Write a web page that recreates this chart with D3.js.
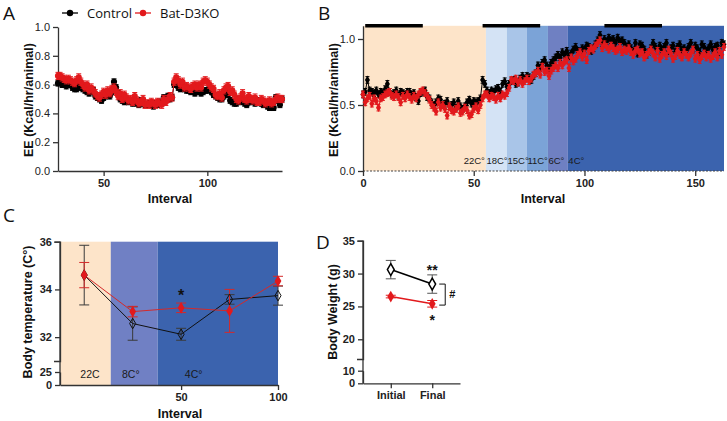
<!DOCTYPE html>
<html>
<head>
<meta charset="utf-8">
<script src="https://cdn.jsdelivr.net/npm/d3@7"></script>
<style>
  body { margin: 0; background: #fff; }
  svg { font-family: "Liberation Sans", Arial, sans-serif; }
  .letter { font-family: "Open Sans", "Liberation Sans", sans-serif; font-size: 19px; fill: #111; }
  .title { font-size: 12.5px; font-weight: bold; fill: #111; }
</style>
</head>
<body>
<svg id="fig" width="727" height="421"></svg>
<script>
"use strict";

// ---------------- data
var seriesNames = ["Control", "Bat-D3KO"];

// A: energy expenditure, intervals 28..136
var intervalStartA = 28;
var eeControlA = [0.61,0.62,0.60,0.60,0.59,0.60,0.60,0.58, 0.57,0.57,0.60,0.58,0.57,
  0.56,0.55,0.54,0.55,0.56,0.52,0.51, 0.50,0.49,0.51,0.52,0.54,0.52,0.55,0.62,
  0.58,0.54,0.50,0.49,0.48,0.49,0.48, 0.49,0.47,0.48,0.47,0.46,0.49,0.47,0.46,
  0.46,0.47,0.46,0.45,0.47,0.46,0.48,0.47,0.51,0.50, 0.52,0.50,0.51,0.60,
  0.61,0.58,0.57,0.60,0.57,0.56, 0.56,0.55,0.56,0.54,0.57,0.55,0.54,0.55,0.56,0.56,
  0.58,0.55,0.53,0.52,0.51,0.50,0.50,0.52,0.54,0.53, 0.49,0.48,0.47,0.47,0.50,0.48,0.49,0.47,0.46,0.48,
  0.48,0.49,0.47,0.49,0.48,0.47,0.46,0.47,0.45,0.44, 0.45,0.44,0.51,0.49,0.46,0.50];
var eeKoA = [0.66,0.66,0.65,0.64,0.63,0.64,0.63,0.62, 0.61,0.63,0.65,0.62,0.60,
  0.58,0.60,0.56,0.58,0.56,0.54,0.52, 0.51,0.53,0.55,0.53,0.56,0.54,0.57,0.58,
  0.55,0.52,0.54,0.50,0.53,0.51,0.49, 0.50,0.48,0.52,0.49,0.47,0.48,0.50,0.46,
  0.47,0.46,0.48,0.47,0.46,0.48,0.47,0.46,0.50,0.48, 0.50,0.52,0.51,0.62,
  0.65,0.63,0.60,0.62,0.58,0.59, 0.58,0.57,0.59,0.60,0.58,0.60,0.58,0.62,0.63,0.62,
  0.60,0.58,0.57,0.53,0.52,0.54,0.51,0.56,0.58,0.59, 0.55,0.56,0.53,0.50,0.49,0.51,0.54,0.50,0.49,0.52,
  0.50,0.49,0.51,0.48,0.48,0.50,0.49,0.47,0.48,0.49, 0.47,0.48,0.50,0.51,0.50,0.50];
var semA = [0.02, 0.025];

// B: energy expenditure while stepping the temperature down, intervals 0..163
var intervalStartB = 0;
var eeControlB = [0.58,0.60,0.69,0.61,0.60,0.59,0.61,0.58,0.60,0.59,0.62,
  0.66,0.60,0.58,0.59,0.61,0.57,0.60,0.59,0.58,0.60,
  0.60,0.58,0.59,0.56,0.53,0.59,0.60,0.61,0.56,0.55,
  0.52,0.50,0.52,0.55,0.54,0.50,0.51,0.53,0.49,0.50,
  0.52,0.48,0.53,0.49,0.47,0.49,0.52,0.54,0.51,0.53,
  0.52,0.53,0.55,0.69,0.66,
  0.61,0.59,0.61,0.60,0.62,0.63,0.60,0.66,0.68,0.64,
  0.66,0.68,0.69,0.66,0.67,0.70,0.72,0.70,0.72,0.71,
  0.69,0.72,0.74,0.80,0.78,0.82,0.84,0.80,0.78,0.82,
  0.84,0.86,0.88,0.86,0.90,0.88,0.91,0.87,0.89,0.92,
  0.94,0.91,0.90,0.93,0.92,0.95,0.94,0.91,0.93,0.96,
  0.99,1.03,0.97,1.00,0.98,1.01,0.99,1.00,0.97,1.01,
  0.98,0.99,0.97,0.94,0.96,0.93,0.91,0.97,0.89,0.96,
  0.95,0.92,0.88,0.90,0.93,0.97,0.94,0.91,0.95,0.92,
  0.94,0.97,0.91,0.93,0.95,0.90,0.94,0.96,0.92,0.93,
  0.91,0.94,0.97,0.92,0.95,0.93,0.90,0.96,0.94,0.91,
  0.93,0.96,0.92,0.94,0.95,0.90,0.97,0.96];
var eeKoB = [0.58,0.52,0.55,0.57,0.51,0.55,0.53,0.48,0.55,0.56,0.58,
  0.59,0.60,0.57,0.56,0.58,0.56,0.52,0.57,0.55,0.58,
  0.56,0.54,0.57,0.55,0.58,0.60,0.61,0.59,0.57,0.54,
  0.50,0.48,0.45,0.52,0.48,0.50,0.47,0.42,0.49,0.46,
  0.45,0.47,0.49,0.44,0.45,0.48,0.46,0.42,0.43,0.47,
  0.49,0.46,0.50,0.55,0.58,
  0.58,0.55,0.57,0.56,0.54,0.57,0.55,0.58,0.57,0.59,
  0.63,0.69,0.68,0.70,0.67,0.69,0.66,0.68,0.70,0.68,
  0.70,0.73,0.74,0.76,0.73,0.79,0.75,0.76,0.72,0.76,
  0.78,0.80,0.78,0.82,0.80,0.83,0.84,0.78,0.86,0.83,
  0.85,0.88,0.90,0.86,0.89,0.84,0.91,0.93,0.92,0.95,
  0.97,0.99,0.93,0.96,0.94,0.92,0.95,0.93,0.91,0.92,
  0.94,0.90,0.92,0.91,0.93,0.90,0.88,0.91,0.92,0.89,
  0.90,0.86,0.88,0.90,0.92,0.89,0.86,0.91,0.85,0.88,
  0.90,0.87,0.92,0.89,0.85,0.87,0.91,0.88,0.86,0.90,
  0.88,0.86,0.89,0.92,0.85,0.88,0.84,0.87,0.89,0.86,
  0.88,0.85,0.87,0.90,0.86,0.91,0.88,0.94];
var semB = [0.025, 0.025];
var bandLabelsB = ["22C°", "18C°", "15C°", "11C°", "6C°", "4C°"];
var bandEdgesB = [0, 55.5, 65, 74, 83.5, 92.5, 163];
var darkPhasesB = [[1, 27], [54, 80], [109, 135]];

// C: body temperature
var intervalsC = [0, 25, 50, 75, 100];
var tempControl = [34.6, 32.57, 32.12, 33.58, 33.74];
var tempControlErr = [1.25, 0.7, 0.25, 0.2, 0.4];
var tempKo = [34.6, 33.07, 33.23, 33.1, 34.35];
var tempKoErr = [0.53, 0.22, 0.2, 0.9, 0.2];
var bandLabelsC = ["22C", "8C°", "4C°"];
var bandEdgesC = [-12.5, 13.7, 37.9, 100];

// D: body weight
var timepoints = ["Initial", "Final"];
var weightControl = [30.6, 28.4];
var weightControlErr = [1.4, 1.4];
var weightKo = [26.5, 25.4];
var weightKoErr = [0.2, 0.5];

// ---------------- styles
var colors = ["#000000", "#e2191c"];
var bandColorsB = ["#fde4c9", "#d4e3f5", "#a9c5e8", "#7ba3d7", "#6f80c2", "#3b63ae"];
var bandColorsC = ["#fde4c9", "#7080c4", "#3b63ae"];

var svg = d3.select("#fig");

function styleAxis(g, bold) {
    g.select(".domain").attr("stroke", "#333").attr("stroke-width", 1.3);
    g.selectAll(".tick line").attr("stroke", "#333").attr("stroke-width", 1.3);
    g.selectAll(".tick text")
        .attr("font-size", 11)
        .attr("font-weight", bold ? "bold" : "normal")
        .attr("fill", "#222")
        .attr("font-family", "Liberation Sans, Arial, sans-serif");
}

//draw error bars (both directions, capped)
function errorBars(g, data, x, y, color, cap) {
    var eb = g.append("g").attr("stroke", color).attr("stroke-width", 1).attr("fill", "none");
    data.forEach(function (d) {
        var cx = x(d.x), t = y(d.v + d.e), b = y(d.v - d.e);
        eb.append("path").attr("d", "M" + cx + "," + t + "V" + b +
            "M" + (cx - cap) + "," + t + "H" + (cx + cap) +
            "M" + (cx - cap) + "," + b + "H" + (cx + cap));
    });
}

function toPoints(start, vals, err) {
    return vals.map(function (v, i) { return { x: start + i, v: v, e: err }; });
}

function drawSeries(g, data, x, y, s, symbol, size, cap) {
    errorBars(g, data, x, y, colors[s], cap);
    g.append("path")
        .datum(data)
        .attr("fill", "none")
        .attr("stroke", colors[s])
        .attr("stroke-width", 1)
        .attr("d", d3.line().x(function (d) { return x(d.x); }).y(function (d) { return y(d.v); }));
    g.append("g").selectAll("path")
        .data(data)
        .enter()
        .append("path")
        .attr("transform", function (d) { return "translate(" + x(d.x) + "," + y(d.v) + ")"; })
        .attr("d", d3.symbol().type(symbol).size(size))
        .attr("fill", colors[s]);
}

function yTitle(x, y, text) {
    svg.append("text").attr("class", "title")
        .attr("transform", "translate(" + x + "," + y + ") rotate(-90)")
        .attr("text-anchor", "middle").text(text);
}

function xTitle(x, y, text) {
    svg.append("text").attr("class", "title")
        .attr("x", x).attr("y", y).attr("text-anchor", "middle").text(text);
}

function letter(x, y, t) {
    svg.append("text").attr("class", "letter").attr("x", x).attr("y", y).text(t);
}

//=========================== panel A
(function () {
    var x = d3.scaleLinear().domain([28, 136]).range([58, 282]);
    var y = d3.scaleLinear().domain([0, 1]).range([171, 27]);
    var g = svg.append("g");

    var ya = g.append("g").attr("transform", "translate(58,0)")
        .call(d3.axisLeft(y).tickValues([0, 0.2, 0.4, 0.6, 0.8, 1.0]).tickFormat(d3.format(".1f")).tickSize(5).tickSizeOuter(0));
    styleAxis(ya, false);
    var xa = g.append("g").attr("transform", "translate(0,171)")
        .call(d3.axisBottom(x).tickValues([50, 100]).tickSize(5).tickSizeOuter(0));
    styleAxis(xa, true);

    var series = [toPoints(intervalStartA, eeControlA, semA[0]), toPoints(intervalStartA, eeKoA, semA[1])];
    series.forEach(function (data, s) {
        drawSeries(g, data, x, y, s, d3.symbolCircle, 30, 2.5);
    });

    // legend
    var lx = [62, 135];
    seriesNames.forEach(function (name, s) {
        var lg = svg.append("g").attr("transform", "translate(" + lx[s] + ",13)");
        lg.append("line").attr("x1", 0).attr("x2", 16).attr("stroke", colors[s]).attr("stroke-width", 1.3);
        lg.append("circle").attr("cx", 8).attr("r", 3.2).attr("fill", colors[s]);
        lg.append("text").attr("x", 25).attr("y", 4.5).attr("font-size", 13).attr("fill", "#111")
            .attr("font-family", "Open Sans, Liberation Sans, sans-serif").text(name);
    });

    yTitle(33, 100, "EE (Kcal/hr/animal)");
    xTitle(170, 203, "Interval");
    letter(3, 20, "A");
})();

//=========================== panel B
(function () {
    var x = d3.scaleLinear().domain([0, 163]).range([363, 724]);
    var y = d3.scaleLinear().domain([0, 1.1]).range([171, 25.8]);
    var g = svg.append("g");

    // temperature bands
    bandLabelsB.forEach(function (lab, i) {
        g.append("rect")
            .attr("x", x(bandEdgesB[i])).attr("y", y(1.1))
            .attr("width", x(bandEdgesB[i + 1]) - x(bandEdgesB[i]))
            .attr("height", y(0) - y(1.1))
            .attr("fill", bandColorsB[i]);
    });
    bandLabelsB.forEach(function (lab, i) {
        g.append("text")
            .attr("x", i === 0 ? x(bandEdgesB[1]) - 1 : x(bandEdgesB[i]) + 0.5)
            .attr("y", 164)
            .attr("text-anchor", i === 0 ? "end" : "start")
            .attr("font-size", 9.5)
            .attr("fill", "#1a1a1a")
            .text(lab);
    });

    // dark phase bars
    darkPhasesB.forEach(function (p) {
        g.append("rect").attr("x", x(p[0])).attr("y", 24).attr("width", x(p[1]) - x(p[0])).attr("height", 3.5).attr("fill", "#000");
    });

    g.append("line").attr("x1", x(0)).attr("x2", x(163)).attr("y1", y(0)).attr("y2", y(0))
        .attr("stroke", "#444").attr("stroke-dasharray", "2,1.5");

    var ya = g.append("g").attr("transform", "translate(363,0)")
        .call(d3.axisLeft(y).tickValues([0, 0.5, 1.0]).tickFormat(d3.format(".1f")).tickSize(5).tickSizeOuter(0));
    styleAxis(ya, false);
    var xa = g.append("g").attr("transform", "translate(0,171)")
        .call(d3.axisBottom(x).tickValues([0, 50, 100, 150]).tickSize(5).tickSizeOuter(0));
    styleAxis(xa, true);
    xa.select(".domain").remove();

    var series = [toPoints(intervalStartB, eeControlB, semB[0]), toPoints(intervalStartB, eeKoB, semB[1])];
    series.forEach(function (data, s) {
        drawSeries(g, data, x, y, s, d3.symbolDiamond, 22, 2);
    });

    yTitle(338, 100, "EE (Kcal/hr/animal)");
    xTitle(543, 203, "Interval");
    letter(318, 20, "B");
})();

//=========================== panel C
(function () {
    var x = d3.scaleLinear().domain([-12.5, 100]).range([60, 278]);
    var y = d3.scaleLinear().domain([31, 36]).range([361, 241.7]);
    var yLow = d3.scaleLinear().domain([0, 25]).range([385, 372]);
    var g = svg.append("g");

    bandLabelsC.forEach(function (lab, i) {
        g.append("rect")
            .attr("x", x(bandEdgesC[i])).attr("y", y(36))
            .attr("width", x(bandEdgesC[i + 1]) - x(bandEdgesC[i]))
            .attr("height", yLow(0) - y(36))
            .attr("fill", bandColorsC[i]);
    });
    var labelOffset = [30, 20, 36];
    bandLabelsC.forEach(function (lab, i) {
        g.append("text")
            .attr("x", x(bandEdgesC[i]) + labelOffset[i]).attr("y", 378)
            .attr("text-anchor", "middle").attr("font-size", 10.5).attr("fill", "#1a1a1a")
            .text(lab);
    });

    g.append("line").attr("x1", 60).attr("x2", 60).attr("y1", y(36)).attr("y2", yLow(0)).attr("stroke", "#333").attr("stroke-width", 1.3);
    var ya = g.append("g").attr("transform", "translate(60,0)")
        .call(d3.axisLeft(y).tickValues([32, 34, 36]).tickFormat(d3.format("d")).tickSize(5).tickSizeOuter(6));
    styleAxis(ya, true);
    var yl = g.append("g").attr("transform", "translate(60,0)")
        .call(d3.axisLeft(yLow).tickValues([0, 25]).tickFormat(d3.format("d")).tickSize(5).tickSizeOuter(0));
    styleAxis(yl, true);
    var xa = g.append("g").attr("transform", "translate(0,385)")
        .call(d3.axisBottom(x).tickValues([50, 100]).tickSize(5).tickSizeOuter(0));
    styleAxis(xa, true);

    var ctrl = intervalsC.map(function (d, i) { return { x: d, v: tempControl[i], e: tempControlErr[i] }; });
    var ko = intervalsC.map(function (d, i) { return { x: d, v: tempKo[i], e: tempKoErr[i] }; });

    errorBars(g, ctrl, x, y, "#3a3a3a", 5);
    g.append("path").datum(ctrl).attr("fill", "none").attr("stroke", "#111").attr("stroke-width", 1)
        .attr("d", d3.line().x(function (d) { return x(d.x); }).y(function (d) { return y(d.v); }));
    errorBars(g, ko, x, y, "#d42a2a", 5);
    g.append("path").datum(ko).attr("fill", "none").attr("stroke", "#d42a2a").attr("stroke-width", 1)
        .attr("d", d3.line().x(function (d) { return x(d.x); }).y(function (d) { return y(d.v); }));
    g.append("g").selectAll("path").data(ctrl).enter().append("path")
        .attr("transform", function (d) { return "translate(" + x(d.x) + "," + y(d.v) + ")"; })
        .attr("d", d3.symbol().type(d3.symbolDiamond).size(32))
        .attr("fill", "none").attr("stroke", "#111").attr("stroke-width", 1);
    g.append("g").selectAll("path").data(ko).enter().append("path")
        .attr("transform", function (d) { return "translate(" + x(d.x) + "," + y(d.v) + ")"; })
        .attr("d", d3.symbol().type(d3.symbolDiamond).size(40))
        .attr("fill", colors[1]);

    g.append("text").attr("x", x(50)).attr("y", 301).attr("text-anchor", "middle")
        .attr("font-size", 16).attr("font-weight", "bold").attr("fill", "#111").text("*");

    yTitle(32, 312, "Body temperature (C°)");
    xTitle(180, 418, "Interval");
    letter(3, 222, "C");
})();

//=========================== panel D
(function () {
    var x = d3.scalePoint().domain(timepoints).range([363, 460]).padding(0.67);
    var y = d3.scaleLinear().domain([17, 35]).range([359, 240.7]);
    var yLow = d3.scaleLinear().domain([0, 10]).range([383.3, 370.7]);
    var g = svg.append("g");

    g.append("line").attr("x1", 363).attr("x2", 363).attr("y1", y(35)).attr("y2", yLow(0)).attr("stroke", "#333").attr("stroke-width", 1.3);
    var ya = g.append("g").attr("transform", "translate(363,0)")
        .call(d3.axisLeft(y).tickValues([20, 25, 30, 35]).tickSize(5).tickSizeOuter(6));
    styleAxis(ya, true);
    var yl = g.append("g").attr("transform", "translate(363,0)")
        .call(d3.axisLeft(yLow).tickValues([0, 10]).tickSize(5).tickSizeOuter(0));
    styleAxis(yl, true);
    var xa = g.append("g").attr("transform", "translate(0,383.3)")
        .call(d3.axisBottom(x).tickSize(5).tickSizeOuter(0));
    styleAxis(xa, true);

    var xs = function (d) { return x(d); };
    var ctrl = timepoints.map(function (t, i) { return { x: t, v: weightControl[i], e: weightControlErr[i] }; });
    var ko = timepoints.map(function (t, i) { return { x: t, v: weightKo[i], e: weightKoErr[i] }; });

    errorBars(g, ctrl, xs, y, "#555", 5);
    g.append("path").datum(ctrl).attr("fill", "none").attr("stroke", "#000").attr("stroke-width", 1.6)
        .attr("d", d3.line().x(function (d) { return x(d.x); }).y(function (d) { return y(d.v); }));
    errorBars(g, ko, xs, y, colors[1], 5);
    g.append("path").datum(ko).attr("fill", "none").attr("stroke", colors[1]).attr("stroke-width", 1.6)
        .attr("d", d3.line().x(function (d) { return x(d.x); }).y(function (d) { return y(d.v); }));
    g.append("g").selectAll("path").data(ctrl).enter().append("path")
        .attr("transform", function (d) { return "translate(" + x(d.x) + "," + y(d.v) + ")"; })
        .attr("d", d3.symbol().type(d3.symbolDiamond).size(40))
        .attr("fill", "#fff").attr("stroke", "#000").attr("stroke-width", 1.5);
    g.append("g").selectAll("path").data(ko).enter().append("path")
        .attr("transform", function (d) { return "translate(" + x(d.x) + "," + y(d.v) + ")"; })
        .attr("d", d3.symbol().type(d3.symbolDiamond).size(40))
        .attr("fill", colors[1]);

    // significance marks
    var fx = x("Final");
    g.append("text").attr("x", fx).attr("y", 275).attr("text-anchor", "middle")
        .attr("font-size", 14).attr("font-weight", "bold").attr("fill", "#111").text("**");
    g.append("text").attr("x", fx).attr("y", 325).attr("text-anchor", "middle")
        .attr("font-size", 14).attr("font-weight", "bold").attr("fill", "#111").text("*");
    g.append("path").attr("d", "M" + (fx + 7) + "," + y(28.4) + "H" + (fx + 13) + "V" + y(25.2) + "H" + (fx + 7))
        .attr("fill", "none").attr("stroke", "#111").attr("stroke-width", 1);
    g.append("text").attr("x", fx + 20).attr("y", 298).attr("text-anchor", "middle")
        .attr("font-size", 11).attr("font-weight", "bold").attr("fill", "#111").text("#");

    yTitle(337, 312, "Body Weight (g)");
    letter(316, 249, "D");
})();
</script>
</body>
</html>
